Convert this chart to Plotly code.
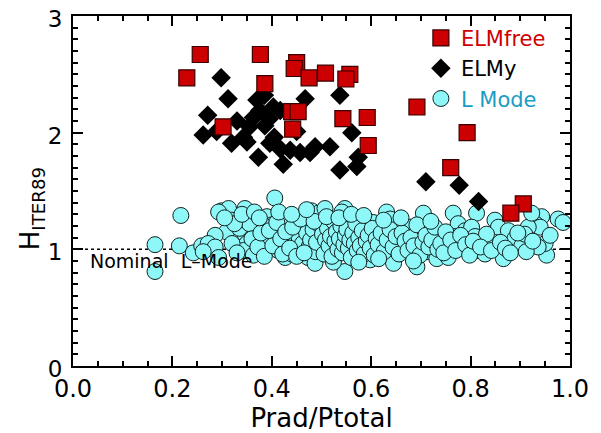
import plotly.graph_objects as go

# ELMfree (squares)
elmfree_x = [0.256, 0.229, 0.377, 0.450, 0.445, 0.475, 0.508, 0.557, 0.549, 0.386, 0.692,
             0.440, 0.453, 0.543, 0.592, 0.302, 0.442, 0.594, 0.793, 0.760, 0.906, 0.881]
elmfree_y = [2.67, 2.47, 2.67, 2.60, 2.55, 2.47, 2.51, 2.50, 2.46, 2.42, 2.22,
             2.18, 2.18, 2.12, 2.13, 2.05, 2.03, 1.89, 2.00, 1.70, 1.39, 1.31]

# ELMy (diamonds)
elmy_x = [0.298, 0.312, 0.271, 0.262, 0.289, 0.319, 0.343, 0.370, 0.376, 0.363, 0.386,
          0.403, 0.417, 0.373, 0.396, 0.423, 0.417, 0.437, 0.457, 0.477, 0.487, 0.517,
          0.467, 0.450, 0.537, 0.561, 0.537, 0.574, 0.571, 0.710, 0.777, 0.816,
          0.385, 0.355, 0.405, 0.330, 0.395, 0.350]
elmy_y = [2.47, 2.29, 2.15, 1.98, 2.01, 1.91, 1.96, 2.28, 2.19, 2.13, 2.06,
          2.22, 2.19, 1.79, 1.91, 1.73, 1.86, 1.85, 1.83, 1.83, 1.88, 1.88,
          2.29, 2.01, 2.32, 2.00, 1.68, 1.79, 1.71, 1.58, 1.55, 1.41,
          2.32, 2.05, 1.96, 2.10, 2.12, 1.92]

# L Mode (circles)
lmode_x = [0.217, 0.165, 0.165, 0.214, 0.242, 0.259,
           0.406, 0.346, 0.299, 0.313, 0.293, 0.319, 0.309, 0.286, 0.272, 0.286, 0.262, 0.293,
           0.346, 0.350, 0.343, 0.380, 0.363, 0.369, 0.390, 0.400, 0.406, 0.433, 0.447, 0.453,
           0.467, 0.480, 0.494, 0.433, 0.447, 0.460, 0.473, 0.487, 0.500, 0.494, 0.427, 0.440,
           0.413, 0.392, 0.380,
           0.547, 0.705, 0.547, 0.541, 0.588, 0.604, 0.631, 0.651, 0.638, 0.678, 0.698, 0.718,
           0.738, 0.524, 0.598, 0.645, 0.692, 0.618, 0.665, 0.712, 0.732, 0.507,
           0.765, 0.812, 0.866, 0.953, 0.976, 0.986, 0.943, 0.930, 0.940, 0.849, 0.856, 0.876,
           0.889, 0.903, 0.916, 0.909, 0.923, 0.950, 0.936, 0.775, 0.789, 0.802, 0.809, 0.769,
           0.755, 0.782, 0.816, 0.829, 0.836, 0.832, 0.755,
           0.455, 0.462, 0.470, 0.475, 0.478, 0.483, 0.488, 0.490, 0.496, 0.502, 0.505, 0.508,
           0.512, 0.515, 0.518, 0.521, 0.524, 0.527, 0.530, 0.533, 0.536, 0.539, 0.542, 0.545,
           0.548, 0.551, 0.554, 0.557, 0.560, 0.563, 0.566, 0.569, 0.572, 0.575, 0.578, 0.582,
           0.586, 0.590, 0.594, 0.598, 0.602, 0.606, 0.610, 0.614, 0.620, 0.626, 0.632, 0.638,
           0.644, 0.650, 0.656, 0.662, 0.668, 0.674, 0.680, 0.686, 0.692, 0.698, 0.704, 0.710,
           0.716, 0.722, 0.728, 0.734, 0.740, 0.746, 0.750, 0.760, 0.770, 0.780, 0.790, 0.798,
           0.805, 0.820, 0.842, 0.860, 0.870, 0.880, 0.895, 0.912, 0.925, 0.960,
           0.320, 0.330, 0.335, 0.355, 0.360, 0.372, 0.378, 0.385, 0.395, 0.402, 0.410, 0.418,
           0.422, 0.428, 0.436, 0.442, 0.450, 0.458, 0.465, 0.485, 0.510, 0.535, 0.560, 0.575,
           0.585, 0.615, 0.625, 0.660, 0.685, 0.720, 0.325, 0.305, 0.340, 0.365, 0.375, 0.414,
           0.440, 0.470]
lmode_y = [1.29, 1.04, 0.81, 1.03, 0.97, 1.03,
           1.44, 1.35, 1.33, 1.35, 1.32, 1.25, 1.15, 1.12, 1.05, 1.02, 0.98, 0.93,
           1.13, 1.05, 0.99, 0.98, 0.95, 1.19, 1.28, 1.21, 1.12, 1.25, 1.23, 1.19,
           1.28, 1.33, 1.31, 1.05, 1.08, 0.99, 0.93, 0.88, 1.02, 1.11, 0.93, 0.96,
           0.99, 1.08, 1.22,
           0.81, 1.31, 1.35, 1.32, 1.26, 1.23, 1.32, 1.23, 1.26, 1.19, 1.16, 1.13,
           1.12, 0.89, 0.91, 0.88, 0.85, 1.02, 1.05, 0.98, 0.92, 1.35,
           1.31, 1.31, 0.92, 0.95, 1.26, 1.23, 1.28, 1.22, 1.19, 1.25, 1.19, 1.16,
           1.09, 1.03, 1.19, 1.13, 1.31, 1.05, 1.02, 1.22, 1.16, 1.19, 1.11, 1.11,
           1.05, 1.02, 0.99, 0.96, 1.05, 1.13, 0.93,
           1.10, 1.05, 1.14, 1.02, 1.08, 1.17, 0.98, 1.06, 1.21, 1.13, 0.96, 1.08,
           1.18, 1.03, 1.11, 0.94, 1.24, 1.07, 1.15, 1.00, 1.09, 1.20, 0.97, 1.04,
           1.12, 1.17, 1.01, 1.08, 0.93, 1.14, 1.05, 1.22, 0.99, 1.10, 1.03, 1.16,
           0.96, 1.07, 1.12, 1.01, 1.18, 0.95, 1.09, 1.04, 1.14, 0.98, 1.08, 1.17,
           1.02, 1.11, 0.96, 1.14, 1.07, 0.99, 1.10, 1.03, 1.21, 0.95, 1.06, 1.12,
           1.02, 1.08, 1.19, 1.00, 1.05, 0.97, 1.15, 1.08, 0.99, 1.12, 1.04, 0.95,
           1.07, 1.02, 0.99, 1.06, 1.01, 0.97, 1.14, 0.98, 1.07, 1.12,
           1.05, 0.97, 1.18, 1.22, 1.09, 1.02, 1.14, 0.94, 1.16, 1.03, 1.23, 1.09,
           0.96, 1.15, 1.01, 1.19, 0.94, 1.26, 0.97, 1.24, 1.28, 1.27, 1.30, 0.89,
           1.29, 0.92, 1.25, 1.27, 0.90, 1.24, 1.22, 1.27, 1.30, 1.32, 1.27, 1.32,
           1.30, 1.34]

x_ticks = [0.0, 0.2, 0.4, 0.6, 0.8, 1.0]
x_tick_labels = ["0.0", "0.2", "0.4", "0.6", "0.8", "1.0"]
y_ticks = [0, 1, 2, 3]
y_tick_labels = ["0", "1", "2", "3"]

FONT = "DejaVu Sans"

fig = go.Figure()
fig.add_trace(go.Scatter(
    x=lmode_x, y=lmode_y, mode="markers",
    name="<span style='color:#1A9CC4'>L Mode</span>",
    marker=dict(symbol="circle", size=16, color="#8EF8F8",
                line=dict(color="#102020", width=1)),
))
fig.add_trace(go.Scatter(
    x=elmy_x, y=elmy_y, mode="markers",
    name="<span style='color:#000000'>ELMy</span>",
    marker=dict(symbol="diamond", size=15, color="#000000",
                line=dict(color="#000000", width=0)),
))
fig.add_trace(go.Scatter(
    x=elmfree_x, y=elmfree_y, mode="markers",
    name="<span style='color:#D00000'>ELMfree</span>",
    marker=dict(symbol="square", size=16, color="#CC0000",
                line=dict(color="#3a0000", width=1.2)),
))

fig.add_shape(type="line", xref="paper", yref="y", x0=0, x1=1, y0=1, y1=1,
              line=dict(color="black", width=1.5, dash="dot"), layer="below")
fig.add_annotation(x=0.03, y=0.90, xref="x", yref="y", text="Nominal  L\u2013Mode",
                   showarrow=False, xanchor="left", yanchor="middle",
                   font=dict(family=FONT, size=19, color="black"))
# y-axis title
fig.add_annotation(x=-0.083, y=0.45, xref="paper", yref="paper",
                   text="H<sub>ITER89</sub>", textangle=-90, showarrow=False,
                   xanchor="center", yanchor="middle",
                   font=dict(family=FONT, size=26, color="black"))

axis_common = dict(showline=True, linecolor="black", linewidth=2, mirror="ticks",
                   ticks="inside", tickcolor="black", tickwidth=2, ticklen=10,
                   showgrid=False, zeroline=False, automargin=False,
                   ticklabeloverflow="allow",
                   tickfont=dict(family=FONT, size=24, color="black"))

fig.update_xaxes(range=[0, 1], tickvals=x_ticks, ticktext=x_tick_labels,
                 minor=dict(dtick=0.05, ticks="inside", ticklen=5, tickwidth=2, tickcolor="black"),
                 title=dict(text="Prad/Ptotal", font=dict(family=FONT, size=26, color="black"),
                            standoff=0),
                 **axis_common)
fig.update_yaxes(range=[0, 3], tickvals=y_ticks, ticktext=y_tick_labels,
                 ticklabelstandoff=4, ticklabelshift=3,
                 minor=dict(dtick=0.1, ticks="inside", ticklen=5, tickwidth=2, tickcolor="black"),
                 **axis_common)
fig.update_yaxes(tickfont=dict(family=FONT, size=23, color="black"))

# page body adds an 8px offset, so margins are shifted accordingly
fig.update_layout(
    width=601, height=433,
    margin=dict(l=65, r=39, t=8, b=75, autoexpand=False),
    paper_bgcolor="white", plot_bgcolor="white",
    showlegend=True,
    legend=dict(x=0.70, y=0.995, xanchor="left", yanchor="top",
                traceorder="reversed", bgcolor="rgba(0,0,0,0)",
                font=dict(family=FONT, size=21), itemsizing="trace",
                tracegroupgap=0),
)

fig.write_html("out.html")
